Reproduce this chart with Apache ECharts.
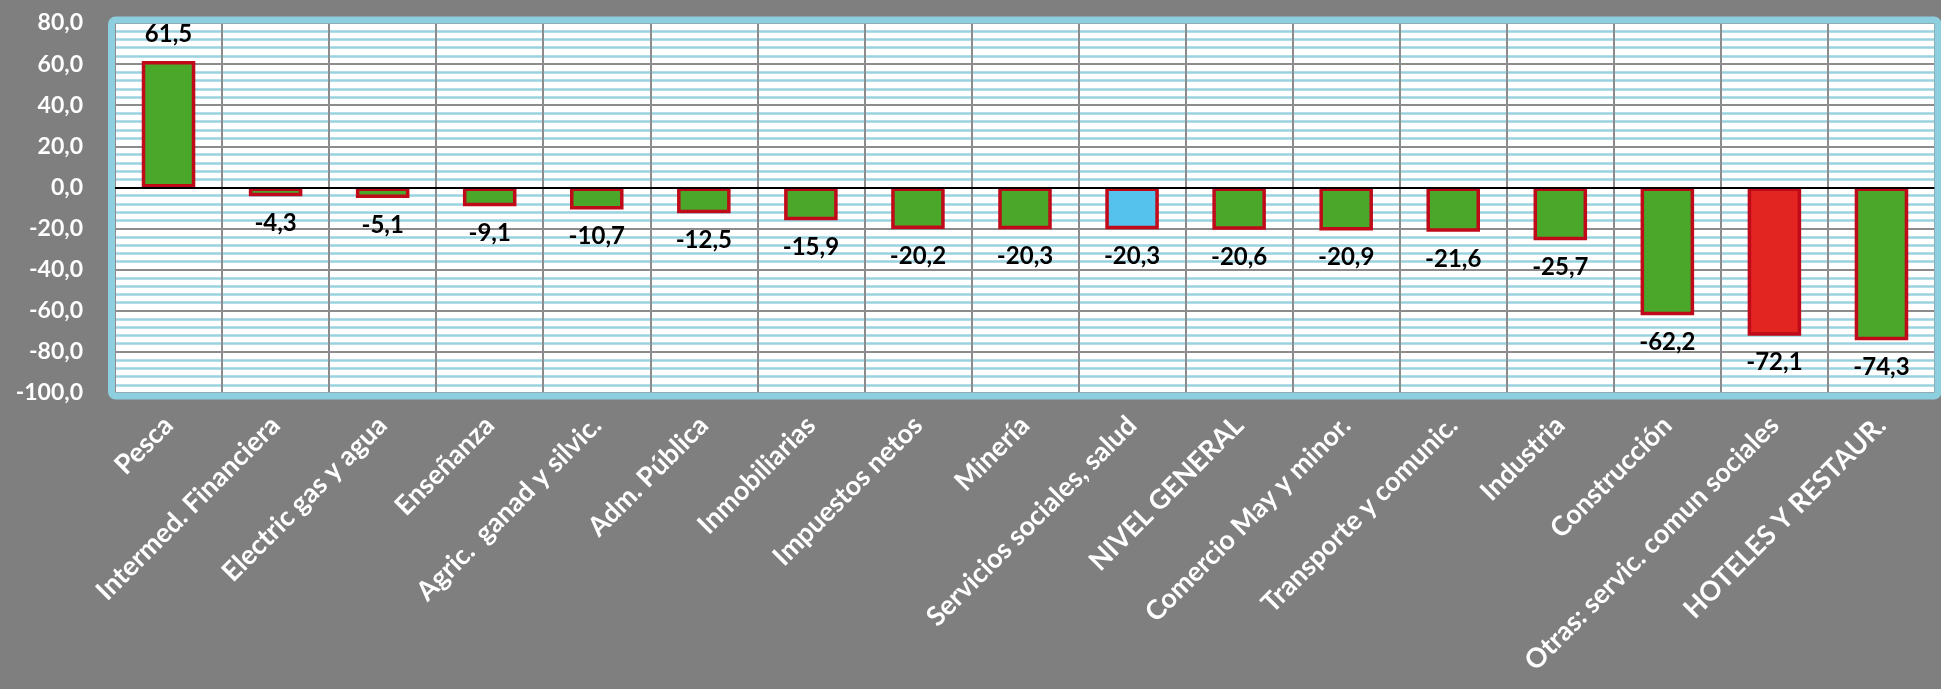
<!DOCTYPE html>
<html>
<head>
<meta charset="utf-8">
<script src="https://cdn.jsdelivr.net/npm/echarts@6/dist/echarts.min.js"></script>
<style>
  html, body { margin: 0; padding: 0; background: #7f7f7f; }
  #chart { width: 1941px; height: 689px; }
</style>
</head>
<body>
<div id="chart"></div>
<script>
// sectores, ordenados como en el original
const categories = [
  'Pesca', 'Intermed. Financiera', 'Electric gas y agua', 'Enseñanza',
  'Agric.  ganad y silvic.', 'Adm. Pública', 'Inmobiliarias', 'Impuestos netos',
  'Minería', 'Servicios sociales, salud', 'NIVEL GENERAL', 'Comercio May y minor.',
  'Transporte y comunic.', 'Industria', 'Construcción', 'Otras: servic. comun sociales',
  'HOTELES Y RESTAUR.'
]
const values = [
  61.5, -4.3, -5.1, -9.1, -10.7, -12.5, -15.9, -20.2,
  -20.3, -20.3, -20.6, -20.9, -21.6, -25.7, -62.2, -72.1, -74.3
]
const yMin = -100
const yMax = 80
const yStep = 20

const fmt = v => v.toFixed(1).replace('.', ',')

function barColor (name) {
  if (name === 'Servicios sociales, salud') return '#55c2ee'
  if (name === 'Otras: servic. comun sociales') return '#e32522'
  return '#4aa72a'
}

const chart = echarts.init(document.getElementById('chart'))
chart.setOption({
  backgroundColor: '#7f7f7f',
  animation: false,
  textStyle: { fontFamily: 'Lato' },
  grid: {
    left: 115,
    right: 6,
    top: 23,
    bottom: 296,
    show: true,
    backgroundColor: '#ffffff',
    borderWidth: 0
  },
  graphic: [
    {
      type: 'rect',
      z: 100,
      silent: true,
      shape: { x: 111.5, y: 20, width: 1826.5, height: 376, r: 4 },
      style: { fill: 'none', stroke: '#8ecfdf', lineWidth: 7 }
    }
  ],
  xAxis: {
    type: 'category',
    data: categories,
    axisLine: { show: false, onZero: false },
    axisTick: { show: false },
    splitLine: {
      show: true,
      interval: 0,
      lineStyle: { color: '#8c8c8c', width: 2 }
    },
    axisLabel: {
      interval: 0,
      rotate: 45,
      margin: 28,
      color: '#ffffff',
      fontWeight: 'bold',
      fontSize: 27,
      fontFamily: 'Lato'
    }
  },
  yAxis: {
    type: 'value',
    min: yMin,
    max: yMax,
    interval: yStep,
    axisLine: { show: false },
    axisTick: { show: false },
    axisLabel: {
      margin: 32,
      color: '#ffffff',
      fontWeight: 'bold',
      fontSize: 23,
      fontFamily: 'Lato',
      formatter: v => fmt(v)
    },
    splitLine: {
      lineStyle: { color: '#8c8c8c', width: 2 }
    },
    minorTick: { show: false, splitNumber: 5 },
    minorSplitLine: {
      show: true,
      lineStyle: { color: '#9bd2e0', width: 2.5 }
    }
  },
  series: [
    {
      type: 'bar',
      barWidth: '50%',
      data: values.map((v, i) => ({
        value: v,
        itemStyle: { color: barColor(categories[i]) }
      })),
      itemStyle: {
        borderColor: '#c00a1a',
        borderWidth: 3.5
      },
      label: {
        show: true,
        position: 'outside',
        distance: 15,
        color: '#000000',
        fontWeight: 'bold',
        fontSize: 24,
        fontFamily: 'Lato',
        formatter: p => fmt(p.value)
      },
      markLine: {
        silent: true,
        symbol: 'none',
        label: { show: false },
        lineStyle: { color: '#000000', width: 2, type: 'solid' },
        data: [{ yAxis: 0 }]
      }
    }
  ]
})
</script>
</body>
</html>
